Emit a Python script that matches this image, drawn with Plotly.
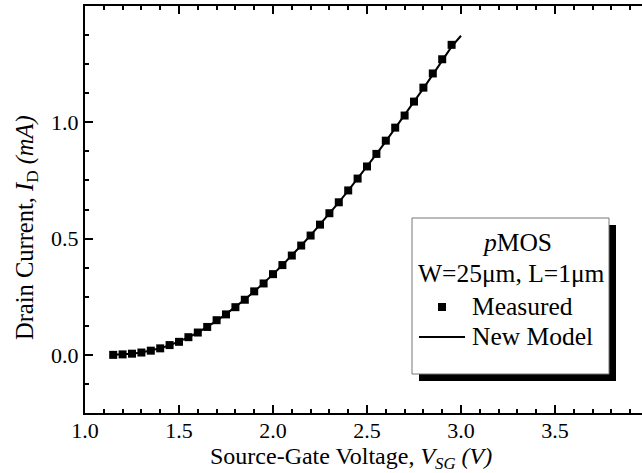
import plotly.graph_objects as go

# ---------------- data ----------------
vsg_measured = [1.15, 1.20, 1.25, 1.30, 1.35, 1.40, 1.45, 1.50, 1.55, 1.60,
                1.65, 1.70, 1.75, 1.80, 1.85, 1.90, 1.95, 2.00, 2.05, 2.10,
                2.15, 2.20, 2.25, 2.30, 2.35, 2.40, 2.45, 2.50, 2.55, 2.60,
                2.65, 2.70, 2.75, 2.80, 2.85, 2.90, 2.95]
id_measured = [0.000, 0.002, 0.005, 0.010, 0.018, 0.028, 0.042, 0.056, 0.076, 0.096,
               0.120, 0.149, 0.174, 0.205, 0.237, 0.273, 0.307, 0.347, 0.386, 0.427,
               0.470, 0.513, 0.560, 0.609, 0.656, 0.707, 0.758, 0.810, 0.864, 0.921,
               0.977, 1.029, 1.089, 1.149, 1.210, 1.271, 1.333]

vsg_model = [1.15, 1.20, 1.25, 1.30, 1.35, 1.40, 1.45, 1.50, 1.55, 1.60,
             1.65, 1.70, 1.75, 1.80, 1.85, 1.90, 1.95, 2.00, 2.05, 2.10,
             2.15, 2.20, 2.25, 2.30, 2.35, 2.40, 2.45, 2.50, 2.55, 2.60,
             2.65, 2.70, 2.75, 2.80, 2.85, 2.90, 2.95, 3.00]
id_model = [0.000, 0.002, 0.005, 0.010, 0.018, 0.028, 0.041, 0.057, 0.075, 0.096,
            0.120, 0.146, 0.175, 0.205, 0.238, 0.272, 0.308, 0.346, 0.386, 0.427,
            0.470, 0.514, 0.560, 0.607, 0.656, 0.706, 0.757, 0.809, 0.863, 0.918,
            0.974, 1.030, 1.088, 1.146, 1.205, 1.265, 1.325, 1.372]

x_ticks = [1.0, 1.5, 2.0, 2.5, 3.0, 3.5]
y_ticks = [0.0, 0.5, 1.0]
legend_header = ["<i>p</i>MOS", "W=25\u03bcm, L=1\u03bcm"]
series_names = ["Measured", "New Model"]
x_title = "Source-Gate Voltage, <i>V</i><sub><i>SG</i></sub><i> (V)</i>"
y_title = "Drain Current, <i>I</i><sub>D</sub><i> (mA)</i>"

# ---------------- layout geometry ----------------
W, H = 642, 473
ML, MR, MT, MB = 85, 0, 6, 60
PW, PH = W - ML - MR, H - MT - MB
PX_PER_V = 188.0


def px(x):
    return (x - ML) / PW


def py(y):
    return (H - MB - y) / PH


FONT = "Liberation Serif"

fig = go.Figure()
fig.add_trace(go.Scatter(x=vsg_model, y=id_model, mode="lines",
                         line=dict(color="black", width=2),
                         name=series_names[1], showlegend=False))
fig.add_trace(go.Scatter(x=vsg_measured, y=id_measured, mode="markers",
                         marker=dict(symbol="square", size=8, color="black",
                                     line=dict(width=0)),
                         name=series_names[0], showlegend=False))

axis_common = dict(showline=True, linecolor="black", linewidth=2,
                   ticks="inside", tickcolor="black", tickwidth=1.5,
                   ticklen=8, showgrid=False, zeroline=False,
                   tickfont=dict(family=FONT, size=22, color="black"))

fig.update_layout(
    width=W, height=H,
    margin=dict(l=ML, r=MR, t=MT, b=MB, pad=0),
    paper_bgcolor="white", plot_bgcolor="white",
    showlegend=False,
    xaxis=dict(range=[1.0, 1.0 + PW / PX_PER_V], mirror="ticks",
               tickmode="array", tickvals=x_ticks,
               ticktext=[f"{v:.1f}" for v in x_ticks],
               ticklabelstandoff=-3,
               minor=dict(ticks="inside", ticklen=4, tickwidth=1.5,
                          tickcolor="black", dtick=0.1, tick0=1.0,
                          showgrid=False),
               **axis_common),
    yaxis=dict(range=[-0.25, 1.5], mirror=False,
               tickmode="array", tickvals=y_ticks,
               ticktext=[f"{v:.1f}" for v in y_ticks],
               ticklabelstandoff=0,
               minor=dict(ticks="inside", ticklen=4, tickwidth=1.5,
                          tickcolor="black", dtick=0.125, tick0=0.0,
                          showgrid=False),
               **axis_common),
    yaxis2=dict(range=[-0.25, 1.5], overlaying="y", side="right",
                showline=False, showgrid=False, zeroline=False,
                showticklabels=False, ticks="inside", ticklen=4,
                tickcolor="#cfcfcf", tickwidth=1,
                tickmode="array", tickvals=y_ticks,
                minor=dict(ticks="inside", ticklen=2, tickcolor="#dddddd",
                           dtick=0.125, tick0=0.0)),
)

# axis titles
fig.add_annotation(text=x_title, xref="paper", yref="paper",
                   x=px(351), y=py(458), xanchor="center", yanchor="middle",
                   showarrow=False, font=dict(family=FONT, size=24, color="black"))
fig.add_annotation(text=y_title, xref="paper", yref="paper", textangle=-90,
                   x=px(27), y=py(228), xanchor="center", yanchor="middle",
                   showarrow=False, font=dict(family=FONT, size=24.5, color="black"))

# legend box with drop shadow
box_l, box_t, box_r, box_b = 412, 218, 609, 374
sh = 7
fig.add_shape(type="rect", xref="paper", yref="paper",
              x0=px(box_l + sh), x1=px(box_r + sh), y0=py(box_b + sh), y1=py(box_t + sh),
              fillcolor="black", line=dict(width=0), layer="above")
fig.add_shape(type="rect", xref="paper", yref="paper",
              x0=px(box_l), x1=px(box_r), y0=py(box_b), y1=py(box_t),
              fillcolor="white", line=dict(color="#777777", width=1), layer="above")

lfont = dict(family=FONT, size=25.5, color="black")
cx = (box_l + box_r) / 2
fig.add_annotation(text=legend_header[0], xref="paper", yref="paper",
                   x=px(cx + 6), y=py(242), xanchor="center", yanchor="middle",
                   showarrow=False, font=lfont)
fig.add_annotation(text=legend_header[1], xref="paper", yref="paper",
                   x=px(cx + 1), y=py(273), xanchor="center", yanchor="middle",
                   showarrow=False, font=lfont)
# sample square
fig.add_shape(type="rect", xref="paper", yref="paper",
              x0=px(438), x1=px(446), y0=py(311), y1=py(303),
              fillcolor="black", line=dict(width=0), layer="above")
fig.add_annotation(text=series_names[0], xref="paper", yref="paper",
                   x=px(470), y=py(306), xanchor="left", yanchor="middle",
                   showarrow=False, font=lfont)
# sample line
fig.add_shape(type="line", xref="paper", yref="paper",
              x0=px(419), x1=px(465), y0=py(337), y1=py(337),
              line=dict(color="black", width=2), layer="above")
fig.add_annotation(text=series_names[1], xref="paper", yref="paper",
                   x=px(470), y=py(336), xanchor="left", yanchor="middle",
                   showarrow=False, font=lfont)

fig.write_html("out.html")
